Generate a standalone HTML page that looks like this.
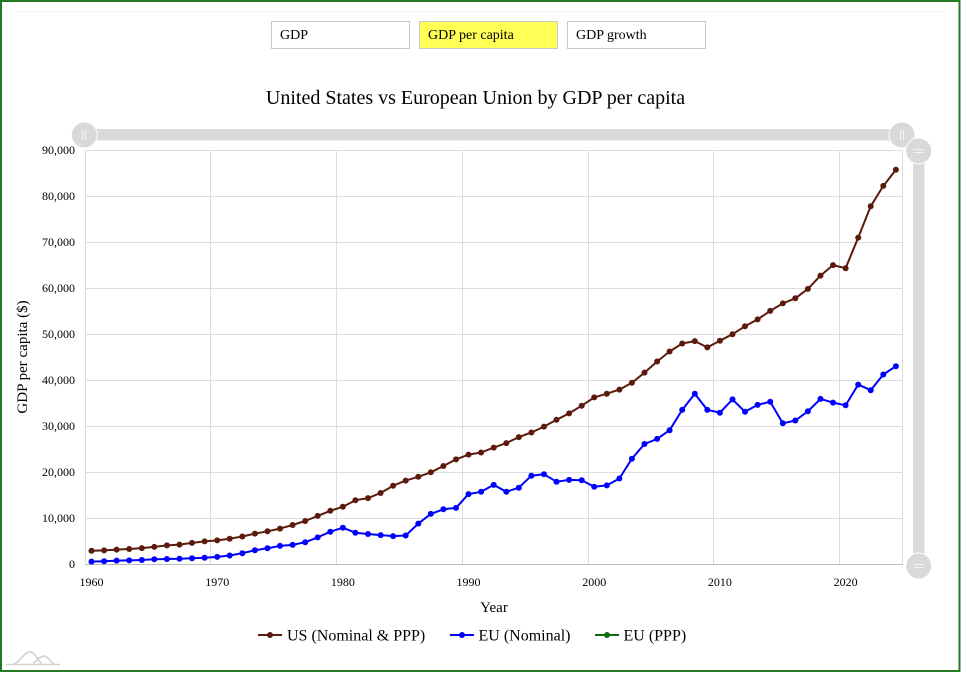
<!DOCTYPE html>
<html>
<head>
<meta charset="utf-8">
<style>
html,body{margin:0;padding:0;background:#fff;}
svg{display:block;}
text{font-family:"Liberation Serif","Times New Roman",serif;}
</style>
</head>
<body>
<svg width="967" height="676" viewBox="0 0 967 676" xmlns="http://www.w3.org/2000/svg">
  <rect x="0" y="0" width="967" height="676" fill="#fff"/>
  <!-- outer green frame -->
  <rect x="1" y="1" width="958.5" height="670" fill="#fff" stroke="#237a23" stroke-width="2"/>
  <line x1="15" y1="11.5" x2="945" y2="11.5" stroke="#f3f3f3" stroke-width="1"/>

  <!-- buttons -->
  <rect x="271.5" y="21.5" width="138" height="27" fill="#fff" stroke="#c8c8c8" stroke-width="1"/>
  <text x="280" y="39" font-size="14" fill="#000">GDP</text>
  <rect x="419.5" y="21.5" width="138" height="27" fill="#ffff55" stroke="#c8c8c8" stroke-width="1"/>
  <text x="428" y="39" font-size="14" fill="#000">GDP per capita</text>
  <rect x="567.5" y="21.5" width="138" height="27" fill="#fff" stroke="#c8c8c8" stroke-width="1"/>
  <text x="576" y="39" font-size="14" fill="#000">GDP growth</text>

  <!-- title -->
  <text x="475.5" y="104" font-size="20" text-anchor="middle" fill="#000">United States vs European Union by GDP per capita</text>

  <!-- gridlines -->
  <g stroke="#dcdcdc" stroke-width="1" shape-rendering="crispEdges">
    <line x1="85" y1="150.5" x2="902" y2="150.5"/>
    <line x1="85" y1="196.5" x2="902" y2="196.5"/>
    <line x1="85" y1="242.5" x2="902" y2="242.5"/>
    <line x1="85" y1="288.5" x2="902" y2="288.5"/>
    <line x1="85" y1="334.5" x2="902" y2="334.5"/>
    <line x1="85" y1="380.5" x2="902" y2="380.5"/>
    <line x1="85" y1="426.5" x2="902" y2="426.5"/>
    <line x1="85" y1="472.5" x2="902" y2="472.5"/>
    <line x1="85" y1="518.5" x2="902" y2="518.5"/>
    <line x1="210.5" y1="150" x2="210.5" y2="564"/>
    <line x1="336.5" y1="150" x2="336.5" y2="564"/>
    <line x1="462.5" y1="150" x2="462.5" y2="564"/>
    <line x1="588.5" y1="150" x2="588.5" y2="564"/>
    <line x1="713.5" y1="150" x2="713.5" y2="564"/>
    <line x1="839.5" y1="150" x2="839.5" y2="564"/>
    <line x1="85.5" y1="150" x2="85.5" y2="564"/>
    <line x1="902.5" y1="150" x2="902.5" y2="564"/>
  </g>
  <line x1="85" y1="564.5" x2="903" y2="564.5" stroke="#bdbdbd" stroke-width="1" shape-rendering="crispEdges"/>

  <!-- y tick labels -->
  <g font-size="12" fill="#000" text-anchor="end">
    <text x="75" y="154">90,000</text>
    <text x="75" y="200">80,000</text>
    <text x="75" y="246">70,000</text>
    <text x="75" y="292">60,000</text>
    <text x="75" y="338">50,000</text>
    <text x="75" y="384">40,000</text>
    <text x="75" y="430">30,000</text>
    <text x="75" y="476">20,000</text>
    <text x="75" y="522">10,000</text>
    <text x="75" y="568">0</text>
  </g>
  <!-- x tick labels -->
  <g font-size="12" fill="#000" text-anchor="middle">
    <text x="91.5" y="586">1960</text>
    <text x="217.2" y="586">1970</text>
    <text x="342.9" y="586">1980</text>
    <text x="468.5" y="586">1990</text>
    <text x="594.2" y="586">2000</text>
    <text x="719.9" y="586">2010</text>
    <text x="845.6" y="586">2020</text>
  </g>

  <!-- axis titles -->
  <text x="494" y="612" font-size="15" text-anchor="middle" fill="#000">Year</text>
  <text transform="translate(27,357) rotate(-90)" font-size="15" text-anchor="middle" fill="#000">GDP per capita ($)</text>

  <!-- US series -->
  <g fill="#5b1a0c" stroke="none">
  <polyline fill="none" stroke="#5b1a0c" stroke-width="2" stroke-linejoin="round" points="91.5,550.7 104.1,550.4 116.6,549.6 129.2,549.0 141.8,548.1 154.3,546.9 166.9,545.4 179.5,544.6 192.0,542.9 204.6,541.4 217.2,540.4 229.7,538.7 242.3,536.5 254.9,533.6 267.5,531.3 280.0,528.6 292.6,525.0 305.2,521.0 317.7,515.9 330.3,510.8 342.9,506.7 355.4,500.2 368.0,498.1 380.6,493.0 393.1,485.7 405.7,480.6 418.3,476.8 430.8,472.3 443.4,466.0 456.0,459.4 468.5,454.6 481.1,452.5 493.7,447.6 506.3,443.1 518.8,437.1 531.4,432.5 544.0,426.6 556.5,419.8 569.1,413.4 581.7,405.7 594.2,397.4 606.8,393.7 619.4,389.6 631.9,382.8 644.5,372.6 657.1,361.5 669.6,351.5 682.2,343.5 694.8,341.1 707.3,347.4 719.9,340.7 732.5,334.2 745.0,326.3 757.6,319.4 770.2,310.9 782.8,303.4 795.3,298.3 807.9,288.9 820.5,275.6 833.0,265.1 845.6,268.2 858.2,237.6 870.7,206.3 883.3,185.9 895.9,169.8"/>
  <circle cx="91.5" cy="550.7" r="3"/><circle cx="104.1" cy="550.4" r="3"/><circle cx="116.6" cy="549.6" r="3"/><circle cx="129.2" cy="549.0" r="3"/><circle cx="141.8" cy="548.1" r="3"/><circle cx="154.3" cy="546.9" r="3"/><circle cx="166.9" cy="545.4" r="3"/><circle cx="179.5" cy="544.6" r="3"/><circle cx="192.0" cy="542.9" r="3"/><circle cx="204.6" cy="541.4" r="3"/>
  <circle cx="217.2" cy="540.4" r="3"/><circle cx="229.7" cy="538.7" r="3"/><circle cx="242.3" cy="536.5" r="3"/><circle cx="254.9" cy="533.6" r="3"/><circle cx="267.5" cy="531.3" r="3"/><circle cx="280.0" cy="528.6" r="3"/><circle cx="292.6" cy="525.0" r="3"/><circle cx="305.2" cy="521.0" r="3"/><circle cx="317.7" cy="515.9" r="3"/><circle cx="330.3" cy="510.8" r="3"/>
  <circle cx="342.9" cy="506.7" r="3"/><circle cx="355.4" cy="500.2" r="3"/><circle cx="368.0" cy="498.1" r="3"/><circle cx="380.6" cy="493.0" r="3"/><circle cx="393.1" cy="485.7" r="3"/><circle cx="405.7" cy="480.6" r="3"/><circle cx="418.3" cy="476.8" r="3"/><circle cx="430.8" cy="472.3" r="3"/><circle cx="443.4" cy="466.0" r="3"/><circle cx="456.0" cy="459.4" r="3"/>
  <circle cx="468.5" cy="454.6" r="3"/><circle cx="481.1" cy="452.5" r="3"/><circle cx="493.7" cy="447.6" r="3"/><circle cx="506.3" cy="443.1" r="3"/><circle cx="518.8" cy="437.1" r="3"/><circle cx="531.4" cy="432.5" r="3"/><circle cx="544.0" cy="426.6" r="3"/><circle cx="556.5" cy="419.8" r="3"/><circle cx="569.1" cy="413.4" r="3"/><circle cx="581.7" cy="405.7" r="3"/>
  <circle cx="594.2" cy="397.4" r="3"/><circle cx="606.8" cy="393.7" r="3"/><circle cx="619.4" cy="389.6" r="3"/><circle cx="631.9" cy="382.8" r="3"/><circle cx="644.5" cy="372.6" r="3"/><circle cx="657.1" cy="361.5" r="3"/><circle cx="669.6" cy="351.5" r="3"/><circle cx="682.2" cy="343.5" r="3"/><circle cx="694.8" cy="341.1" r="3"/><circle cx="707.3" cy="347.4" r="3"/>
  <circle cx="719.9" cy="340.7" r="3"/><circle cx="732.5" cy="334.2" r="3"/><circle cx="745.0" cy="326.3" r="3"/><circle cx="757.6" cy="319.4" r="3"/><circle cx="770.2" cy="310.9" r="3"/><circle cx="782.8" cy="303.4" r="3"/><circle cx="795.3" cy="298.3" r="3"/><circle cx="807.9" cy="288.9" r="3"/><circle cx="820.5" cy="275.6" r="3"/><circle cx="833.0" cy="265.1" r="3"/>
  <circle cx="845.6" cy="268.2" r="3"/><circle cx="858.2" cy="237.6" r="3"/><circle cx="870.7" cy="206.3" r="3"/><circle cx="883.3" cy="185.9" r="3"/><circle cx="895.9" cy="169.8" r="3"/>
  </g>

  <!-- EU nominal series -->
  <g fill="#0000ff" stroke="none">
  <polyline fill="none" stroke="#0000ff" stroke-width="2" stroke-linejoin="round" points="91.5,561.6 104.1,561.3 116.6,560.6 129.2,560.4 141.8,560.0 154.3,559.3 166.9,559.0 179.5,558.8 192.0,558.2 204.6,557.8 217.2,556.9 229.7,555.5 242.3,553.2 254.9,550.2 267.5,548.3 280.0,545.9 292.6,544.9 305.2,542.2 317.7,537.4 330.3,531.7 342.9,527.7 355.4,532.7 368.0,534.0 380.6,535.1 393.1,536.1 405.7,535.5 418.3,523.6 430.8,513.9 443.4,509.3 456.0,507.9 468.5,494.1 481.1,491.8 493.7,484.9 506.3,491.8 518.8,487.7 531.4,475.7 544.0,474.3 556.5,481.7 569.1,479.9 581.7,480.3 594.2,486.8 606.8,485.4 619.4,478.5 631.9,458.7 644.5,444.0 657.1,438.9 669.6,430.2 682.2,409.9 694.8,393.8 707.3,409.9 719.9,412.7 732.5,399.4 745.0,411.8 757.6,404.9 770.2,401.7 782.8,423.3 795.3,420.5 807.9,411.3 820.5,398.9 833.0,402.6 845.6,405.3 858.2,384.6 870.7,390.2 883.3,374.5 895.9,366.2"/>
  <circle cx="91.5" cy="561.6" r="3"/><circle cx="104.1" cy="561.3" r="3"/><circle cx="116.6" cy="560.6" r="3"/><circle cx="129.2" cy="560.4" r="3"/><circle cx="141.8" cy="560.0" r="3"/><circle cx="154.3" cy="559.3" r="3"/><circle cx="166.9" cy="559.0" r="3"/><circle cx="179.5" cy="558.8" r="3"/><circle cx="192.0" cy="558.2" r="3"/><circle cx="204.6" cy="557.8" r="3"/>
  <circle cx="217.2" cy="556.9" r="3"/><circle cx="229.7" cy="555.5" r="3"/><circle cx="242.3" cy="553.2" r="3"/><circle cx="254.9" cy="550.2" r="3"/><circle cx="267.5" cy="548.3" r="3"/><circle cx="280.0" cy="545.9" r="3"/><circle cx="292.6" cy="544.9" r="3"/><circle cx="305.2" cy="542.2" r="3"/><circle cx="317.7" cy="537.4" r="3"/><circle cx="330.3" cy="531.7" r="3"/>
  <circle cx="342.9" cy="527.7" r="3"/><circle cx="355.4" cy="532.7" r="3"/><circle cx="368.0" cy="534.0" r="3"/><circle cx="380.6" cy="535.1" r="3"/><circle cx="393.1" cy="536.1" r="3"/><circle cx="405.7" cy="535.5" r="3"/><circle cx="418.3" cy="523.6" r="3"/><circle cx="430.8" cy="513.9" r="3"/><circle cx="443.4" cy="509.3" r="3"/><circle cx="456.0" cy="507.9" r="3"/>
  <circle cx="468.5" cy="494.1" r="3"/><circle cx="481.1" cy="491.8" r="3"/><circle cx="493.7" cy="484.9" r="3"/><circle cx="506.3" cy="491.8" r="3"/><circle cx="518.8" cy="487.7" r="3"/><circle cx="531.4" cy="475.7" r="3"/><circle cx="544.0" cy="474.3" r="3"/><circle cx="556.5" cy="481.7" r="3"/><circle cx="569.1" cy="479.9" r="3"/><circle cx="581.7" cy="480.3" r="3"/>
  <circle cx="594.2" cy="486.8" r="3"/><circle cx="606.8" cy="485.4" r="3"/><circle cx="619.4" cy="478.5" r="3"/><circle cx="631.9" cy="458.7" r="3"/><circle cx="644.5" cy="444.0" r="3"/><circle cx="657.1" cy="438.9" r="3"/><circle cx="669.6" cy="430.2" r="3"/><circle cx="682.2" cy="409.9" r="3"/><circle cx="694.8" cy="393.8" r="3"/><circle cx="707.3" cy="409.9" r="3"/>
  <circle cx="719.9" cy="412.7" r="3"/><circle cx="732.5" cy="399.4" r="3"/><circle cx="745.0" cy="411.8" r="3"/><circle cx="757.6" cy="404.9" r="3"/><circle cx="770.2" cy="401.7" r="3"/><circle cx="782.8" cy="423.3" r="3"/><circle cx="795.3" cy="420.5" r="3"/><circle cx="807.9" cy="411.3" r="3"/><circle cx="820.5" cy="398.9" r="3"/><circle cx="833.0" cy="402.6" r="3"/>
  <circle cx="845.6" cy="405.3" r="3"/><circle cx="858.2" cy="384.6" r="3"/><circle cx="870.7" cy="390.2" r="3"/><circle cx="883.3" cy="374.5" r="3"/><circle cx="895.9" cy="366.2" r="3"/>
  </g>

  <!-- horizontal scrollbar -->
  <rect x="84" y="129" width="818" height="11.5" fill="#d9d9d9"/>
  <circle cx="84.3" cy="135" r="13" fill="#d9d9d9" stroke="#fff" stroke-width="1"/>
  <line x1="82.8" y1="130" x2="82.8" y2="140" stroke="#f4f4f4" stroke-width="1"/>
  <line x1="85.8" y1="130" x2="85.8" y2="140" stroke="#f4f4f4" stroke-width="1"/>
  <circle cx="902" cy="135" r="13" fill="#d9d9d9" stroke="#fff" stroke-width="1"/>
  <line x1="900.5" y1="130" x2="900.5" y2="140" stroke="#f4f4f4" stroke-width="1"/>
  <line x1="903.5" y1="130" x2="903.5" y2="140" stroke="#f4f4f4" stroke-width="1"/>

  <!-- vertical scrollbar -->
  <rect x="913" y="151" width="11.5" height="415" fill="#d9d9d9"/>
  <circle cx="918.7" cy="151" r="13" fill="#d9d9d9" stroke="#fff" stroke-width="1"/>
  <line x1="913.7" y1="149.5" x2="923.7" y2="149.5" stroke="#f4f4f4" stroke-width="1"/>
  <line x1="913.7" y1="152.5" x2="923.7" y2="152.5" stroke="#f4f4f4" stroke-width="1"/>
  <circle cx="918.7" cy="566" r="13" fill="#d9d9d9" stroke="#fff" stroke-width="1"/>
  <line x1="913.7" y1="564.5" x2="923.7" y2="564.5" stroke="#f4f4f4" stroke-width="1"/>
  <line x1="913.7" y1="567.5" x2="923.7" y2="567.5" stroke="#f4f4f4" stroke-width="1"/>

  <!-- legend -->
  <line x1="258" y1="635" x2="282" y2="635" stroke="#5b1a0c" stroke-width="2"/>
  <circle cx="270" cy="635" r="3" fill="#5b1a0c"/>
  <text x="287" y="640.5" font-size="16" fill="#000">US (Nominal &amp; PPP)</text>
  <line x1="450" y1="635" x2="474" y2="635" stroke="#0000ff" stroke-width="2"/>
  <circle cx="462" cy="635" r="3" fill="#0000ff"/>
  <text x="478.5" y="640.5" font-size="16" fill="#000">EU (Nominal)</text>
  <line x1="595" y1="635" x2="619" y2="635" stroke="#0f6b0f" stroke-width="2"/>
  <circle cx="607" cy="635" r="3" fill="#0f6b0f"/>
  <text x="623.5" y="640.5" font-size="16" fill="#000">EU (PPP)</text>

  <!-- logo -->
  <g fill="none" stroke="#cfcfcf" stroke-width="1.5">
    <line x1="6" y1="664.5" x2="60" y2="664.5"/>
    <path d="M14,664 C20,662 24,652 30,652 C36,652 38,663 42,663"/>
    <path d="M33,663 C37,661 40,656 44,656 C48,656 50,662 54,664"/>
  </g>
</svg>
</body>
</html>
